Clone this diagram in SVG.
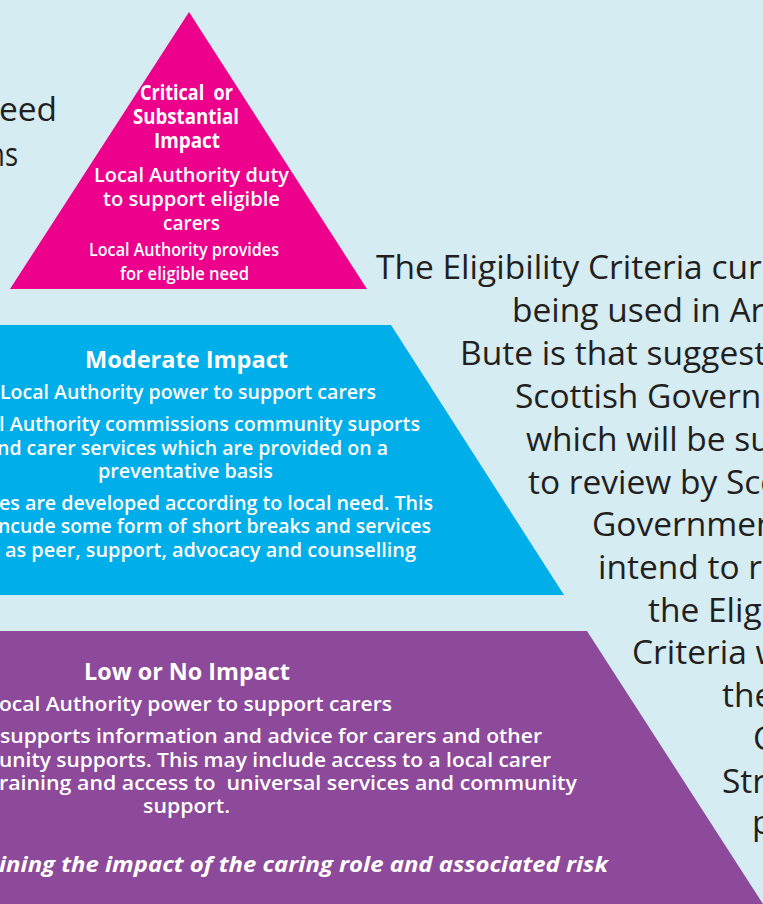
<svg xmlns="http://www.w3.org/2000/svg" width="763" height="904" viewBox="0 0 763 904">
<style>
.dark{font-family:"Open Sans","Noto Sans",sans-serif;font-size:33.5px;fill:#231f20}
.w{font-family:"Open Sans","Noto Sans",sans-serif;fill:#ffffff}
.hd{font-weight:700;font-size:22px}
.bd{font-weight:600;font-size:20px}
.it{font-weight:700;font-style:italic;font-size:22px}
.pre{white-space:pre}
</style>
<rect id="background" x="0" y="0" width="763" height="904" fill="#d4ecf2"/>

<g id="left-text">
<text class="dark" x="57" y="121" text-anchor="end">eed</text>
<text class="dark" x="18" y="166" text-anchor="end" textLength="30" lengthAdjust="spacingAndGlyphs">ns</text>
</g>

<g id="tier-critical">
<polygon points="189,12 367,289 10,289" fill="#ec008c"/>
<text class="w hd pre" x="140" y="100" textLength="93" lengthAdjust="spacingAndGlyphs">Critical  or</text>
<text class="w hd" x="133" y="124" textLength="106" lengthAdjust="spacingAndGlyphs">Substantial</text>
<text class="w hd" x="154" y="148" textLength="66" lengthAdjust="spacingAndGlyphs">Impact</text>
<text class="w bd" x="94" y="182" font-size="21" textLength="195" lengthAdjust="spacingAndGlyphs">Local Authority duty</text>
<text class="w bd" x="103" y="206" font-size="21" textLength="177" lengthAdjust="spacingAndGlyphs">to support eligible</text>
<text class="w bd" x="163" y="230" font-size="21" textLength="57" lengthAdjust="spacingAndGlyphs">carers</text>
<text class="w bd" x="89" y="256" style="font-size:18.5px" textLength="190" lengthAdjust="spacingAndGlyphs">Local Authority provides</text>
<text class="w bd" x="120" y="280" style="font-size:18.5px" textLength="129" lengthAdjust="spacingAndGlyphs">for eligible need</text>
</g>

<g id="tier-moderate">
<polygon points="0,325 391,325 564,595 0,595" fill="#00aeea"/>
<text class="w hd" x="85" y="368" style="font-size:23px" textLength="203" lengthAdjust="spacingAndGlyphs">Moderate Impact</text>
<text class="w bd" x="376" y="399" text-anchor="end" textLength="376" lengthAdjust="spacingAndGlyphs">Local Authority power to support carers</text>
<text class="w bd" x="420" y="431" text-anchor="end" textLength="421" lengthAdjust="spacingAndGlyphs">l Authority commissions community suports</text>
<text class="w bd" x="388" y="455" text-anchor="end" textLength="391" lengthAdjust="spacingAndGlyphs">nd carer services which are provided on a</text>
<text class="w bd" x="98" y="478" textLength="175" lengthAdjust="spacingAndGlyphs">preventative basis</text>
<text class="w bd" x="433" y="510" text-anchor="end" textLength="434" lengthAdjust="spacingAndGlyphs">es are developed according to local need. This</text>
<text class="w bd" x="431" y="533" text-anchor="end" textLength="433" lengthAdjust="spacingAndGlyphs">ncude some form of short breaks and services</text>
<text class="w bd" x="416" y="557" text-anchor="end" textLength="411" lengthAdjust="spacingAndGlyphs">as peer, support, advocacy and counselling</text>
</g>

<g id="tier-low">
<polygon points="0,631 587,631 763,904 0,904" fill="#8d4a9b"/>
<text class="w hd" x="84" y="680" style="font-size:23px" textLength="206" lengthAdjust="spacingAndGlyphs">Low or No Impact</text>
<text class="w bd" x="392" y="711" text-anchor="end" textLength="393" lengthAdjust="spacingAndGlyphs">ocal Authority power to support carers</text>
<text class="w bd" x="542" y="743" text-anchor="end" textLength="542" lengthAdjust="spacingAndGlyphs">supports information and advice for carers and other</text>
<text class="w bd" x="551" y="767" text-anchor="end" textLength="552" lengthAdjust="spacingAndGlyphs">unity supports. This may include access to a local carer</text>
<text class="w bd pre" x="577" y="790" text-anchor="end" textLength="578" lengthAdjust="spacingAndGlyphs">raining and access to  universal services and community</text>
<text class="w bd" x="143" y="813" textLength="87" lengthAdjust="spacingAndGlyphs">support.</text>
<text class="w it" x="608" y="872" text-anchor="end" textLength="609" lengthAdjust="spacingAndGlyphs">ining the impact of the caring role and associated risk</text>
</g>

<g id="description">
<text class="dark" x="376" y="279">The Eligibility Criteria cur</text>
<text class="dark" x="512" y="322">being used in Ar</text>
<text class="dark" x="460" y="365">Bute is that suggest</text>
<text class="dark" x="515" y="408">Scottish Governm</text>
<text class="dark" x="526" y="451">which will be su</text>
<text class="dark" x="528" y="494">to review by Sco</text>
<text class="dark" x="592" y="536">Governmen</text>
<text class="dark" x="598" y="579">intend to re</text>
<text class="dark" x="648" y="622">the Elig</text>
<text class="dark" x="632" y="664">Criteria w</text>
<text class="dark" x="722" y="707">the</text>
<text class="dark" x="753" y="750">C</text>
<text class="dark" x="722" y="793">Str</text>
<text class="dark" x="752" y="834">p</text>
</g>
</svg>
